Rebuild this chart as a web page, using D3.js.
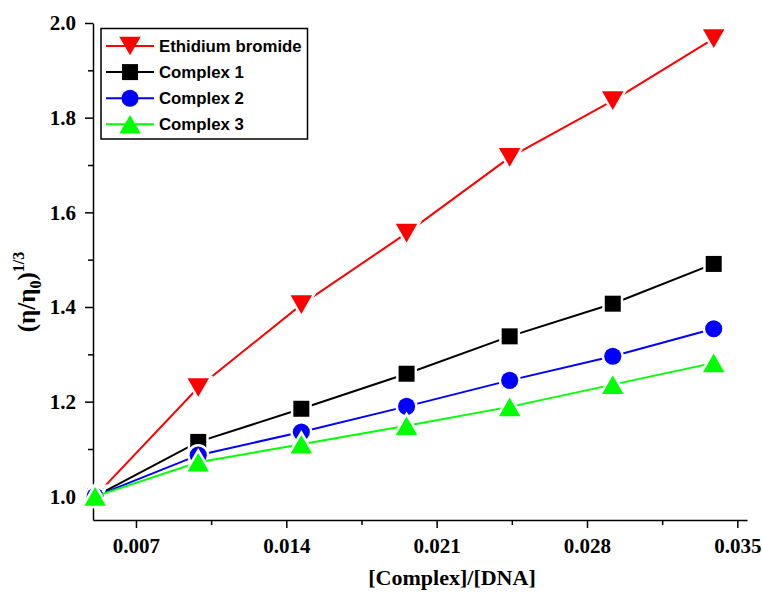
<!DOCTYPE html>
<html>
<head>
<meta charset="utf-8">
<script src="https://cdn.jsdelivr.net/npm/d3@7"></script>
<style>
  body { margin: 0; background: #fff; }
  svg { display: block; }
</style>
</head>
<body>
<script>
// viscosity chart
const width = 762;
const height = 592;
const margin = {top: 23, right: 15, bottom: 72, left: 93};

const ratio = [0.0051, 0.0099, 0.0147, 0.0196, 0.0244, 0.0292, 0.0339];
const ethidium = [1.0, 1.230, 1.405, 1.556, 1.716, 1.836, 1.967];
const complex1 = [1.0, 1.115, 1.185, 1.259, 1.338, 1.407, 1.491];
const complex2 = [1.0, 1.087, 1.136, 1.190, 1.245, 1.296, 1.354];
const complex3 = [1.0, 1.072, 1.110, 1.149, 1.189, 1.236, 1.282];

const series_names = ['Ethidium bromide', 'Complex 1', 'Complex 2', 'Complex 3'];
const xTicks = [0.007, 0.014, 0.021, 0.028, 0.035];
const yTicks = [1.0, 1.2, 1.4, 1.6, 1.8, 2.0];

// triangle centred on its bounding box (down = inverted)
const tri = down => ({
  draw(ctx, size) {
    const a = Math.sqrt(size * 4 / Math.sqrt(3));
    const h = a * Math.sqrt(3) / 2;
    const s = down ? -1 : 1;
    ctx.moveTo(0, -s * h / 2);
    ctx.lineTo(a / 2, s * h / 2);
    ctx.lineTo(-a / 2, s * h / 2);
    ctx.closePath();
  }
});

const series = [
  {name: series_names[0], values: ethidium, color: '#ff0000', sym: tri(true), size: 200},
  {name: series_names[1], values: complex1, color: '#000000', sym: d3.symbolSquare, size: 256},
  {name: series_names[2], values: complex2, color: '#0000ff', sym: d3.symbolCircle, size: 230},
  {name: series_names[3], values: complex3, color: '#00ff00', sym: tri(false), size: 200}
];

const x = d3.scaleLinear()
  .domain([0.005, 0.03545])
  .range([margin.left, width - margin.right]);

const y = d3.scaleLinear()
  .domain([0.95, 2.0])
  .range([height - margin.bottom, margin.top]);

const svg = d3.select('body').append('svg')
  .attr('width', width)
  .attr('height', height);

const serif = 'Liberation Serif, Times New Roman, serif';
const sans = 'Liberation Sans, Arial, sans-serif';

// axes
const xAxis = g => g
  .attr('transform', `translate(0,${height - margin.bottom})`)
  .call(d3.axisBottom(x).tickValues(xTicks).tickFormat(d3.format('.3f'))
    .tickSize(8).tickPadding(10).tickSizeOuter(0));

const xMinor = g => g
  .attr('transform', `translate(0,${height - margin.bottom})`)
  .call(d3.axisBottom(x).tickValues([0.0105, 0.0175, 0.0245, 0.0315])
    .tickSize(5).tickFormat('').tickSizeOuter(0))
  .call(g => g.select('.domain').remove());

const yAxis = g => g
  .attr('transform', `translate(${margin.left},0)`)
  .call(d3.axisLeft(y).tickValues(yTicks).tickFormat(d3.format('.1f'))
    .tickSize(8).tickPadding(9).tickSizeOuter(0));

const yMinor = g => g
  .attr('transform', `translate(${margin.left},0)`)
  .call(d3.axisLeft(y).tickValues([1.1, 1.3, 1.5, 1.7, 1.9])
    .tickSize(5).tickFormat('').tickSizeOuter(0))
  .call(g => g.select('.domain').remove());

[xAxis, xMinor, yAxis, yMinor].forEach(a => {
  svg.append('g').call(a)
    .call(g => g.selectAll('path, line').attr('stroke', '#000').attr('stroke-width', 1.5))
    .call(g => g.selectAll('text')
      .attr('font-family', serif).attr('font-weight', 'bold')
      .attr('font-size', '21px').attr('fill', '#000'));
});

// axis titles
svg.append('text')
  .attr('x', (x.range()[0] + x.range()[1]) / 2 + 32)
  .attr('y', 585)
  .attr('text-anchor', 'middle')
  .attr('font-family', serif).attr('font-weight', 'bold').attr('font-size', '22px')
  .text('[Complex]/[DNA]');

const yt = svg.append('text')
  .attr('transform', 'translate(35,292) rotate(-90)')
  .attr('text-anchor', 'middle')
  .attr('font-family', serif).attr('font-weight', 'bold').attr('font-size', '25px');
yt.append('tspan').text('(η/η');
yt.append('tspan').attr('font-size', '16px').attr('dy', 6).text('0');
yt.append('tspan').attr('dy', -6).text(')');
yt.append('tspan').attr('font-size', '16px').attr('dy', -11).text('1/3');

// lines + markers
const line = d3.line()
  .x((d, i) => x(ratio[i]))
  .y(d => y(d));

for (const s of series) {
  svg.append('path')
    .datum(s.values)
    .attr('fill', 'none')
    .attr('stroke', s.color)
    .attr('stroke-width', 2)
    .attr('d', line);
  svg.append('g').selectAll('path')
    .data(s.values)
    .join('path')
    .attr('transform', (d, i) => `translate(${x(ratio[i])},${y(d)})`)
    .attr('d', d3.symbol().type(s.sym).size(s.size))
    .attr('fill', s.color)
    .attr('stroke', '#fff')
    .attr('stroke-width', 5)
    .attr('paint-order', 'stroke');
}

// legend
const legend = svg.append('g');
legend.append('rect')
  .attr('x', 101).attr('y', 28.5)
  .attr('width', 206.5).attr('height', 110.5)
  .attr('fill', '#fff').attr('stroke', '#000').attr('stroke-width', 1.5);

series.forEach((s, i) => {
  const ly = 46 + i * 26.1;
  legend.append('line')
    .attr('x1', 106).attr('x2', 154).attr('y1', ly).attr('y2', ly)
    .attr('stroke', s.color).attr('stroke-width', 2);
  legend.append('path')
    .attr('transform', `translate(130,${ly})`)
    .attr('d', d3.symbol().type(s.sym).size(s.size))
    .attr('fill', s.color);
  legend.append('text')
    .attr('x', 159).attr('y', ly).attr('dy', '0.36em')
    .attr('font-family', sans).attr('font-weight', 'bold').attr('font-size', '16.8px')
    .text(s.name);
});
</script>
</body>
</html>
